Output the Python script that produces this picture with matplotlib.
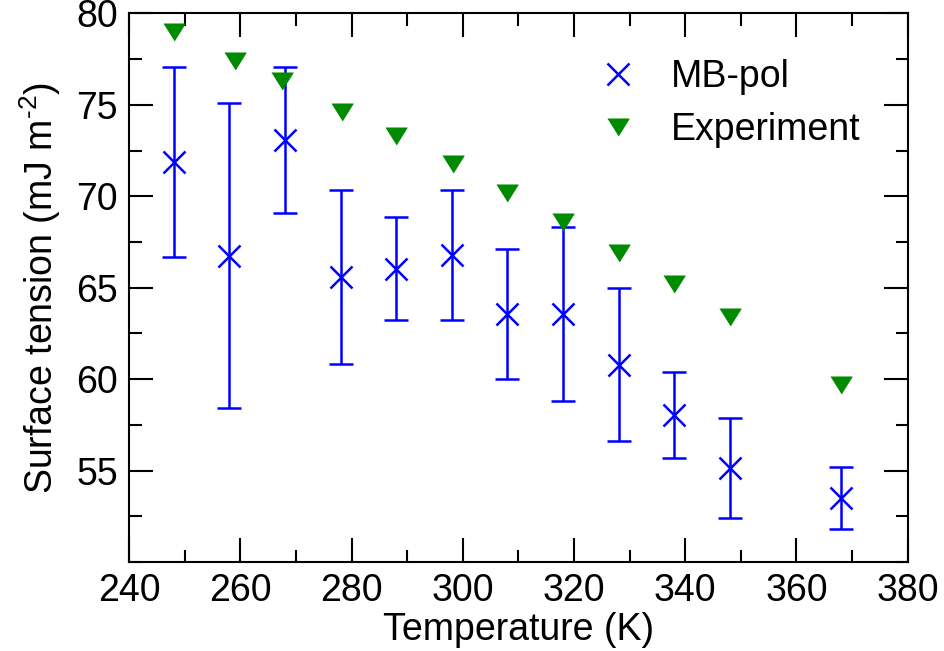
import matplotlib
matplotlib.use("Agg")
import matplotlib.pyplot as plt
from matplotlib.ticker import MultipleLocator

plt.rcParams["font.family"] = ["Liberation Sans", "DejaVu Sans"]
plt.rcParams["mathtext.fontset"] = "custom"
plt.rcParams["mathtext.rm"] = "Liberation Sans"

# MB-pol simulation results
mbpol_T = [248, 258, 268, 278, 288, 298, 308, 318, 328, 338, 348, 368]
mbpol_gamma = [71.9, 66.75, 73.1, 65.6, 66.05, 66.8, 63.55, 63.55, 60.8, 58.05, 55.15, 53.5]
mbpol_err = [5.2, 8.35, 4.0, 4.75, 2.8, 3.55, 3.55, 4.75, 4.2, 2.35, 2.75, 1.72]

# experimental values
exp_T = [248, 259, 267.5, 278.3, 288, 298.2, 308, 318, 328, 338, 348, 368]
exp_gamma = [79.0, 77.4, 76.3, 74.6, 73.3, 71.75, 70.2, 68.6, 66.9, 65.2, 63.4, 59.7]

blue = "#0000ff"
green = "#008a00"
tri = [(-1, 0.8), (1, 0.8), (0, -0.8)]

fig = plt.figure(figsize=(9.45, 6.51), dpi=100)
ax = fig.add_axes([0.1368, 0.1367, 0.8237, 0.8426])

ax.errorbar(mbpol_T, mbpol_gamma, yerr=mbpol_err, fmt="none", ecolor=blue,
            elinewidth=1.8, capsize=8.4, capthick=1.8)
ax.plot(mbpol_T, mbpol_gamma, ls="none", marker="x", ms=16, mew=1.8,
        color=blue, label="MB-pol")
ax.plot(exp_T, exp_gamma, ls="none", marker=tri, ms=15.5, color=green,
        mec=green, mew=0.5, label="Experiment")

ax.set_xlim(240, 380)
ax.set_ylim(50, 80)
ax.xaxis.set_major_locator(MultipleLocator(20))
ax.xaxis.set_minor_locator(MultipleLocator(10))
ax.set_yticks([55, 60, 65, 70, 75, 80])
ax.yaxis.set_minor_locator(MultipleLocator(2.5))
ax.tick_params(which="both", direction="in", top=True, right=True,
               width=1.5, labelsize=27)
ax.tick_params(which="major", length=17.5, pad=8)
ax.tick_params(which="minor", length=9)
for s in ax.spines.values():
    s.set_linewidth(1.5)

ax.set_xlabel("Temperature (K)", fontsize=27, labelpad=2)
ax.set_ylabel(r"Surface tension (mJ m$^{\text{-2}}$)", fontsize=27, labelpad=10)

ax.legend(loc="upper left", bbox_to_anchor=(0.57, 0.965), frameon=False,
          fontsize=27, handlelength=1.0, handletextpad=0.9,
          labelspacing=0.45, borderpad=0.2)

fig.savefig("out.png", dpi=100)
